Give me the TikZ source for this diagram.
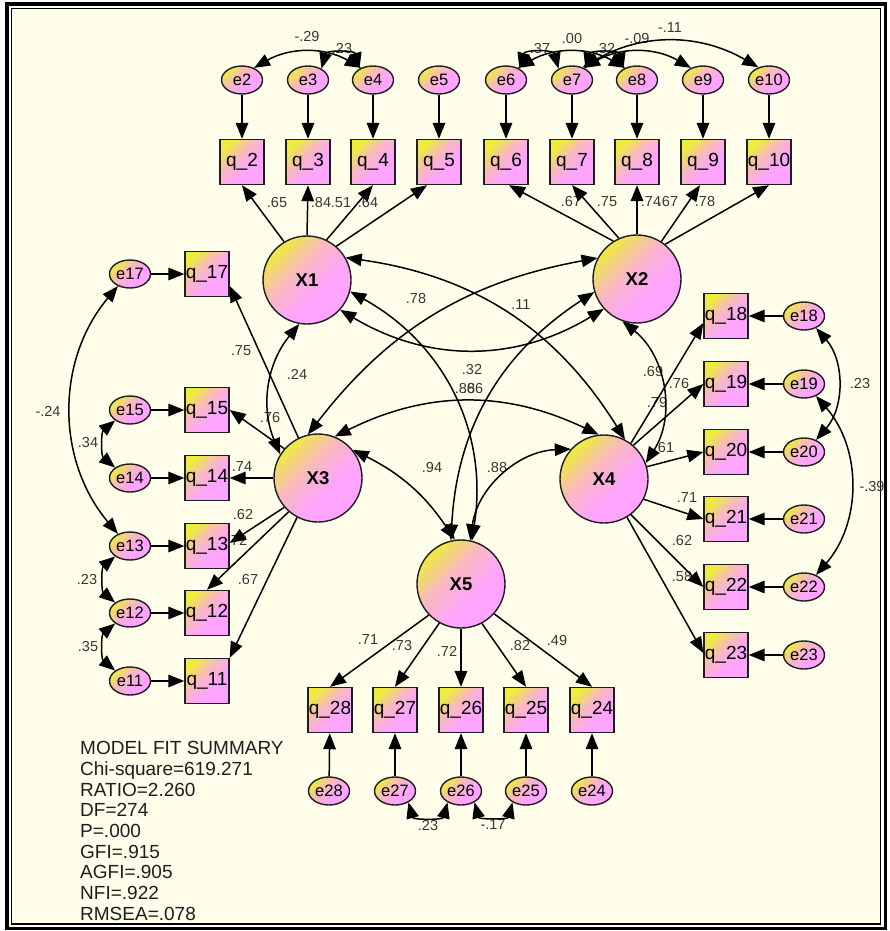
\documentclass[tikz,border=0pt]{standalone}
\usepackage{fontspec}
\setmainfont{Liberation Sans}
\usetikzlibrary{arrows.meta,shapes.geometric}
\definecolor{bgc}{RGB}{254,254,234}
\definecolor{gy}{RGB}{238,236,60}
\definecolor{gp}{RGB}{255,164,255}
\definecolor{gm}{RGB}{248,186,190}
\definecolor{lab}{RGB}{55,55,55}
\definecolor{ink}{RGB}{30,30,30}
\pgfdeclareverticalshading{amos}{100bp}{color(0bp)=(gp); color(25bp)=(gp); color(40bp)=(gp); color(58bp)=(gm); color(75bp)=(gy); color(100bp)=(gy)}
\begin{document}
\begin{tikzpicture}[x=1pt,y=1pt,
  grad/.style={draw=ink, line width=1.4pt, shade, shading=amos, shading angle=45},
  obs/.style={grad, rectangle, minimum width=44pt, minimum height=45pt, inner sep=0pt, font=\fontsize{19}{19}\selectfont},
  err/.style={grad, ellipse, minimum width=41pt, minimum height=28pt, inner sep=0pt, font=\fontsize{16.5}{16.5}\selectfont},
  lat/.style={grad, circle, minimum size=88pt, inner sep=0pt, font=\fontsize{18.5}{18.5}\selectfont\bfseries},
  lbl/.style={inner sep=0pt, text=lab, font=\fontsize{14.5}{14.5}\selectfont},
  fitline/.style={inner sep=0pt, anchor=base west, text=ink, font=\fontsize{19}{19}\selectfont},
  path/.style={line width=1.5pt, draw=black, -{Triangle[length=16pt,width=12.5pt]}},
  cov/.style={line width=1.5pt, draw=black, {Triangle[length=16pt,width=12.5pt]}-{Triangle[length=16pt,width=12.5pt]}},
]
\useasboundingbox (0,0) rectangle (889,-931);
\fill[white] (0,0) rectangle (889,-931);
\draw[line width=3.5pt] (7,-4) rectangle (885.5,-928.5);
\draw[line width=1.3pt, fill=bgc] (11.8,-8.7) rectangle (880.7,-924);

% ---------- labels (drawn first, under the connectors)
\node[lbl] (l1) at (277,-203) {.65};
\node[lbl] (l2) at (321,-203) {.84};
\node[lbl] (l3) at (341,-203) {.51};
\node[lbl] (l4) at (368,-203) {.64};
\node[lbl] (l5) at (571,-202) {.67};
\node[lbl] (l6) at (607,-202) {.75};
\node[lbl] (l7) at (651,-202) {.74};
\node[lbl] (l8) at (668,-202) {.67};
\node[lbl] (l9) at (705,-202) {.78};
\node[lbl] (l10) at (241,-351) {.75};
\node[lbl] (l11) at (270,-418) {.76};
\node[lbl] (l12) at (242,-467) {.74};
\node[lbl] (l13) at (243,-515) {.62};
\node[lbl] (l14) at (237,-540) {.72};
\node[lbl] (l15) at (248,-580) {.67};
\node[lbl] (l16) at (653,-372) {.69};
\node[lbl] (l17) at (679,-384) {.76};
\node[lbl] (l18) at (657,-403) {.79};
\node[lbl] (l19) at (664,-448) {.61};
\node[lbl] (l20) at (687,-498) {.71};
\node[lbl] (l21) at (682,-541) {.62};
\node[lbl] (l22) at (682,-577) {.58};
\node[lbl] (l23) at (368,-640) {.71};
\node[lbl] (l24) at (402,-646) {.73};
\node[lbl] (l25) at (447,-651) {.72};
\node[lbl] (l26) at (520,-646) {.82};
\node[lbl] (l27) at (557,-641) {.49};
\node[lbl] (l28) at (416,-299) {.78};
\node[lbl] (l29) at (521,-305) {.11};
\node[lbl] (l30) at (472,-370) {.32};
\node[lbl] (l31) at (465,-389) {.88};
\node[lbl] (l32) at (473,-389) {.66};
\node[lbl] (l33) at (297,-374) {.24};
\node[lbl] (l34) at (432,-468) {.94};
\node[lbl] (l35) at (497,-468) {.88};
\node[lbl] (l36) at (307,-37) {-.29};
\node[lbl] (l37) at (342,-49) {.23};
\node[lbl] (l38) at (540,-49) {.37};
\node[lbl] (l39) at (572,-39) {.00};
\node[lbl] (l40) at (605,-49) {.32};
\node[lbl] (l41) at (637,-39) {-.09};
\node[lbl] (l42) at (670,-28) {-.11};
\node[lbl] (l43) at (48,-411) {-.24};
\node[lbl] (l44) at (88,-443) {.34};
\node[lbl] (l45) at (87,-580) {.23};
\node[lbl] (l46) at (88,-647) {.35};
\node[lbl] (l47) at (860,-384) {.23};
\node[lbl] (l48) at (872,-487) {-.39};
\node[lbl] (l49) at (428,-825) {.23};
\node[lbl] (l50) at (493,-825) {-.17};

% ---------- fit summary
\node[fitline] (f1) at (80,-754.8) {MODEL FIT SUMMARY};
\node[fitline] (f2) at (80,-775.4) {Chi-square=619.271};
\node[fitline] (f3) at (80,-796.1) {RATIO=2.260};
\node[fitline] (f4) at (80,-816.7) {DF=274};
\node[fitline] (f5) at (80,-837.4) {P=.000};
\node[fitline] (f6) at (80,-858.0) {GFI=.915};
\node[fitline] (f7) at (80,-878.7) {AGFI=.905};
\node[fitline] (f8) at (80,-899.3) {NFI=.922};
\node[fitline] (f9) at (80,-920.0) {RMSEA=.078};

% ---------- latent variables
\node[lat] (X1) at (307,-280) {X1};
\node[lat] (X2) at (637,-279) {X2};
\node[lat] (X3) at (318,-478) {X3};
\node[lat] (X4) at (604,-479) {X4};
\node[lat] (X5) at (461,-584) {X5};

% ---------- observed variables
\node[obs] (q2) at (242,-162) {q\_2};
\node[obs] (q3) at (308,-162) {q\_3};
\node[obs] (q4) at (373,-162) {q\_4};
\node[obs] (q5) at (439,-162) {q\_5};
\node[obs] (q6) at (506,-162) {q\_6};
\node[obs] (q7) at (572,-162) {q\_7};
\node[obs] (q8) at (637,-162) {q\_8};
\node[obs] (q9) at (703,-162) {q\_9};
\node[obs] (q10) at (769,-162) {q\_10};
\node[obs] (q17) at (207,-274) {q\_17};
\node[obs] (q15) at (207,-410) {q\_15};
\node[obs] (q14) at (207,-478) {q\_14};
\node[obs] (q13) at (207,-546) {q\_13};
\node[obs] (q12) at (207,-613) {q\_12};
\node[obs] (q11) at (207,-681) {q\_11};
\node[obs] (q18) at (726,-316) {q\_18};
\node[obs] (q19) at (726,-384) {q\_19};
\node[obs] (q20) at (726,-452) {q\_20};
\node[obs] (q21) at (726,-519) {q\_21};
\node[obs] (q22) at (726,-587) {q\_22};
\node[obs] (q23) at (726,-655) {q\_23};
\node[obs] (q28) at (330,-710) {q\_28};
\node[obs] (q27) at (395,-710) {q\_27};
\node[obs] (q26) at (461,-710) {q\_26};
\node[obs] (q25) at (526,-710) {q\_25};
\node[obs] (q24) at (592,-710) {q\_24};

% ---------- error terms
\node[err] (e2) at (242,-80) {e2};
\node[err] (e3) at (308,-80) {e3};
\node[err] (e4) at (373,-80) {e4};
\node[err] (e5) at (439,-80) {e5};
\node[err] (e6) at (506,-80) {e6};
\node[err] (e7) at (572,-80) {e7};
\node[err] (e8) at (637,-80) {e8};
\node[err] (e9) at (703,-80) {e9};
\node[err] (e10) at (769,-80) {e10};
\node[err] (e17) at (130,-274) {e17};
\node[err] (e15) at (130,-410) {e15};
\node[err] (e14) at (130,-478) {e14};
\node[err] (e13) at (130,-546) {e13};
\node[err] (e12) at (130,-613) {e12};
\node[err] (e11) at (130,-681) {e11};
\node[err] (e18) at (804,-316) {e18};
\node[err] (e19) at (804,-384) {e19};
\node[err] (e20) at (804,-452) {e20};
\node[err] (e21) at (804,-519) {e21};
\node[err] (e22) at (804,-587) {e22};
\node[err] (e23) at (804,-655) {e23};
\node[err] (e28) at (329,-791) {e28};
\node[err] (e27) at (395,-791) {e27};
\node[err] (e26) at (461,-791) {e26};
\node[err] (e25) at (526,-791) {e25};
\node[err] (e24) at (592,-791) {e24};

% ---------- error -> indicator
\foreach \i in {2,...,15,17,18,19,20,21,22,23,24,25,26,27,28}
  \draw[path] (e\i) -- (q\i);

% ---------- loadings
\draw[path] (X1.121) -- (q2.south);
\draw[path] (X1.90) -- (q3.south);
\draw[path] (X1.64) -- (q4.south);
\draw[path] (X1.49) -- ([xshift=-12pt]q5.south);
\draw[path] (X2.122) -- ([xshift=3pt]q6.south);
\draw[path] (X2.114) -- (q7.south);
\draw[path] (X2.90) -- (q8.south);
\draw[path] (X2.57) -- ([xshift=-3pt]q9.south);
\draw[path] (X2.51) -- (q10.south);
\draw[path] (X3.116) -- ([yshift=-12pt]q17.east);
\draw[path] (X3.139) -- (q15.east);
\draw[path] (X3.180) -- (q14.east);
\draw[path] (X3.221) -- ([yshift=3pt]q13.east);
\draw[path] (X3.229) -- (q12.north);
\draw[path] (X3.242) -- (q11.north east);
\draw[path] (X4.53) -- ([yshift=-7pt]q18.west);
\draw[path] (X4.49) -- (q19.west);
\draw[path] (X4.16) -- (q20.west);
\draw[path] (X4.-27) -- (q21.west);
\draw[path] (X4.-53) -- (q22.west);
\draw[path] (X4.-59) -- ([yshift=2pt]q23.west);
\draw[path] (X5.224) -- (q28.north);
\draw[path] (X5.241) -- (q27.north);
\draw[path] (X5.270) -- (q26.north);
\draw[path] (X5.-62) -- (q25.north);
\draw[path] (X5.-42) -- (q24.north);

% ---------- factor covariances
\draw[cov] (X1.-42) to[bend right=31] (X2.222);
\draw[cov] (X1.260) to[bend right=31] (X3.148);
\draw[cov] (X1.30) to[bend left=25] (X4.62);
\draw[cov] (X1.-15) to[bend left=35] (X5.76);
\draw[cov] (X2.152) to[bend right=21] (X3.103);
\draw[cov] (X2.251) to[bend left=42] (X4.21);
\draw[cov] (X2.197) to[bend right=27] (X5.103);
\draw[cov] (X3.68) to[bend left=26] (X4.97);
\draw[cov] (X3.39) to[bend left=15] (X5.98);
\draw[cov] (X4.138) to[bend right=40] (X5.78);

% ---------- error covariances
\draw[cov] (e2.45) to[bend left=30] (e4.135);
\draw[cov] (e3.40) to[out=75,in=105,looseness=1.3] (e4.140);
\draw[cov] (e6.40) to[out=75,in=105,looseness=1.3] (e7.140);
\draw[cov] (e6.45) to[bend left=30] (e8.135);
\draw[cov] (e7.40) to[out=75,in=105,looseness=1.3] (e8.140);
\draw[cov] (e7.45) to[bend left=30] (e9.135);
\draw[cov] (e7.50) to[bend left=30] (e10.130);
\draw[cov] (e17.225) to[bend right=40] (e13.135);
\draw[cov] (e15.215) to[bend right=50] (e14.145);
\draw[cov] (e13.215) to[bend right=50] (e12.145);
\draw[cov] (e12.215) to[bend right=50] (e11.145);
\draw[cov] (e18.-45) to[bend left=41] (e20.45);
\draw[cov] (e19.-45) to[bend left=41] (e22.45);
\draw[cov] (e27.-40) to[out=-75,in=-105,looseness=1.2] (e26.-140);
\draw[cov] (e26.-40) to[out=-75,in=-105,looseness=1.2] (e25.-140);
\end{tikzpicture}
\end{document}
